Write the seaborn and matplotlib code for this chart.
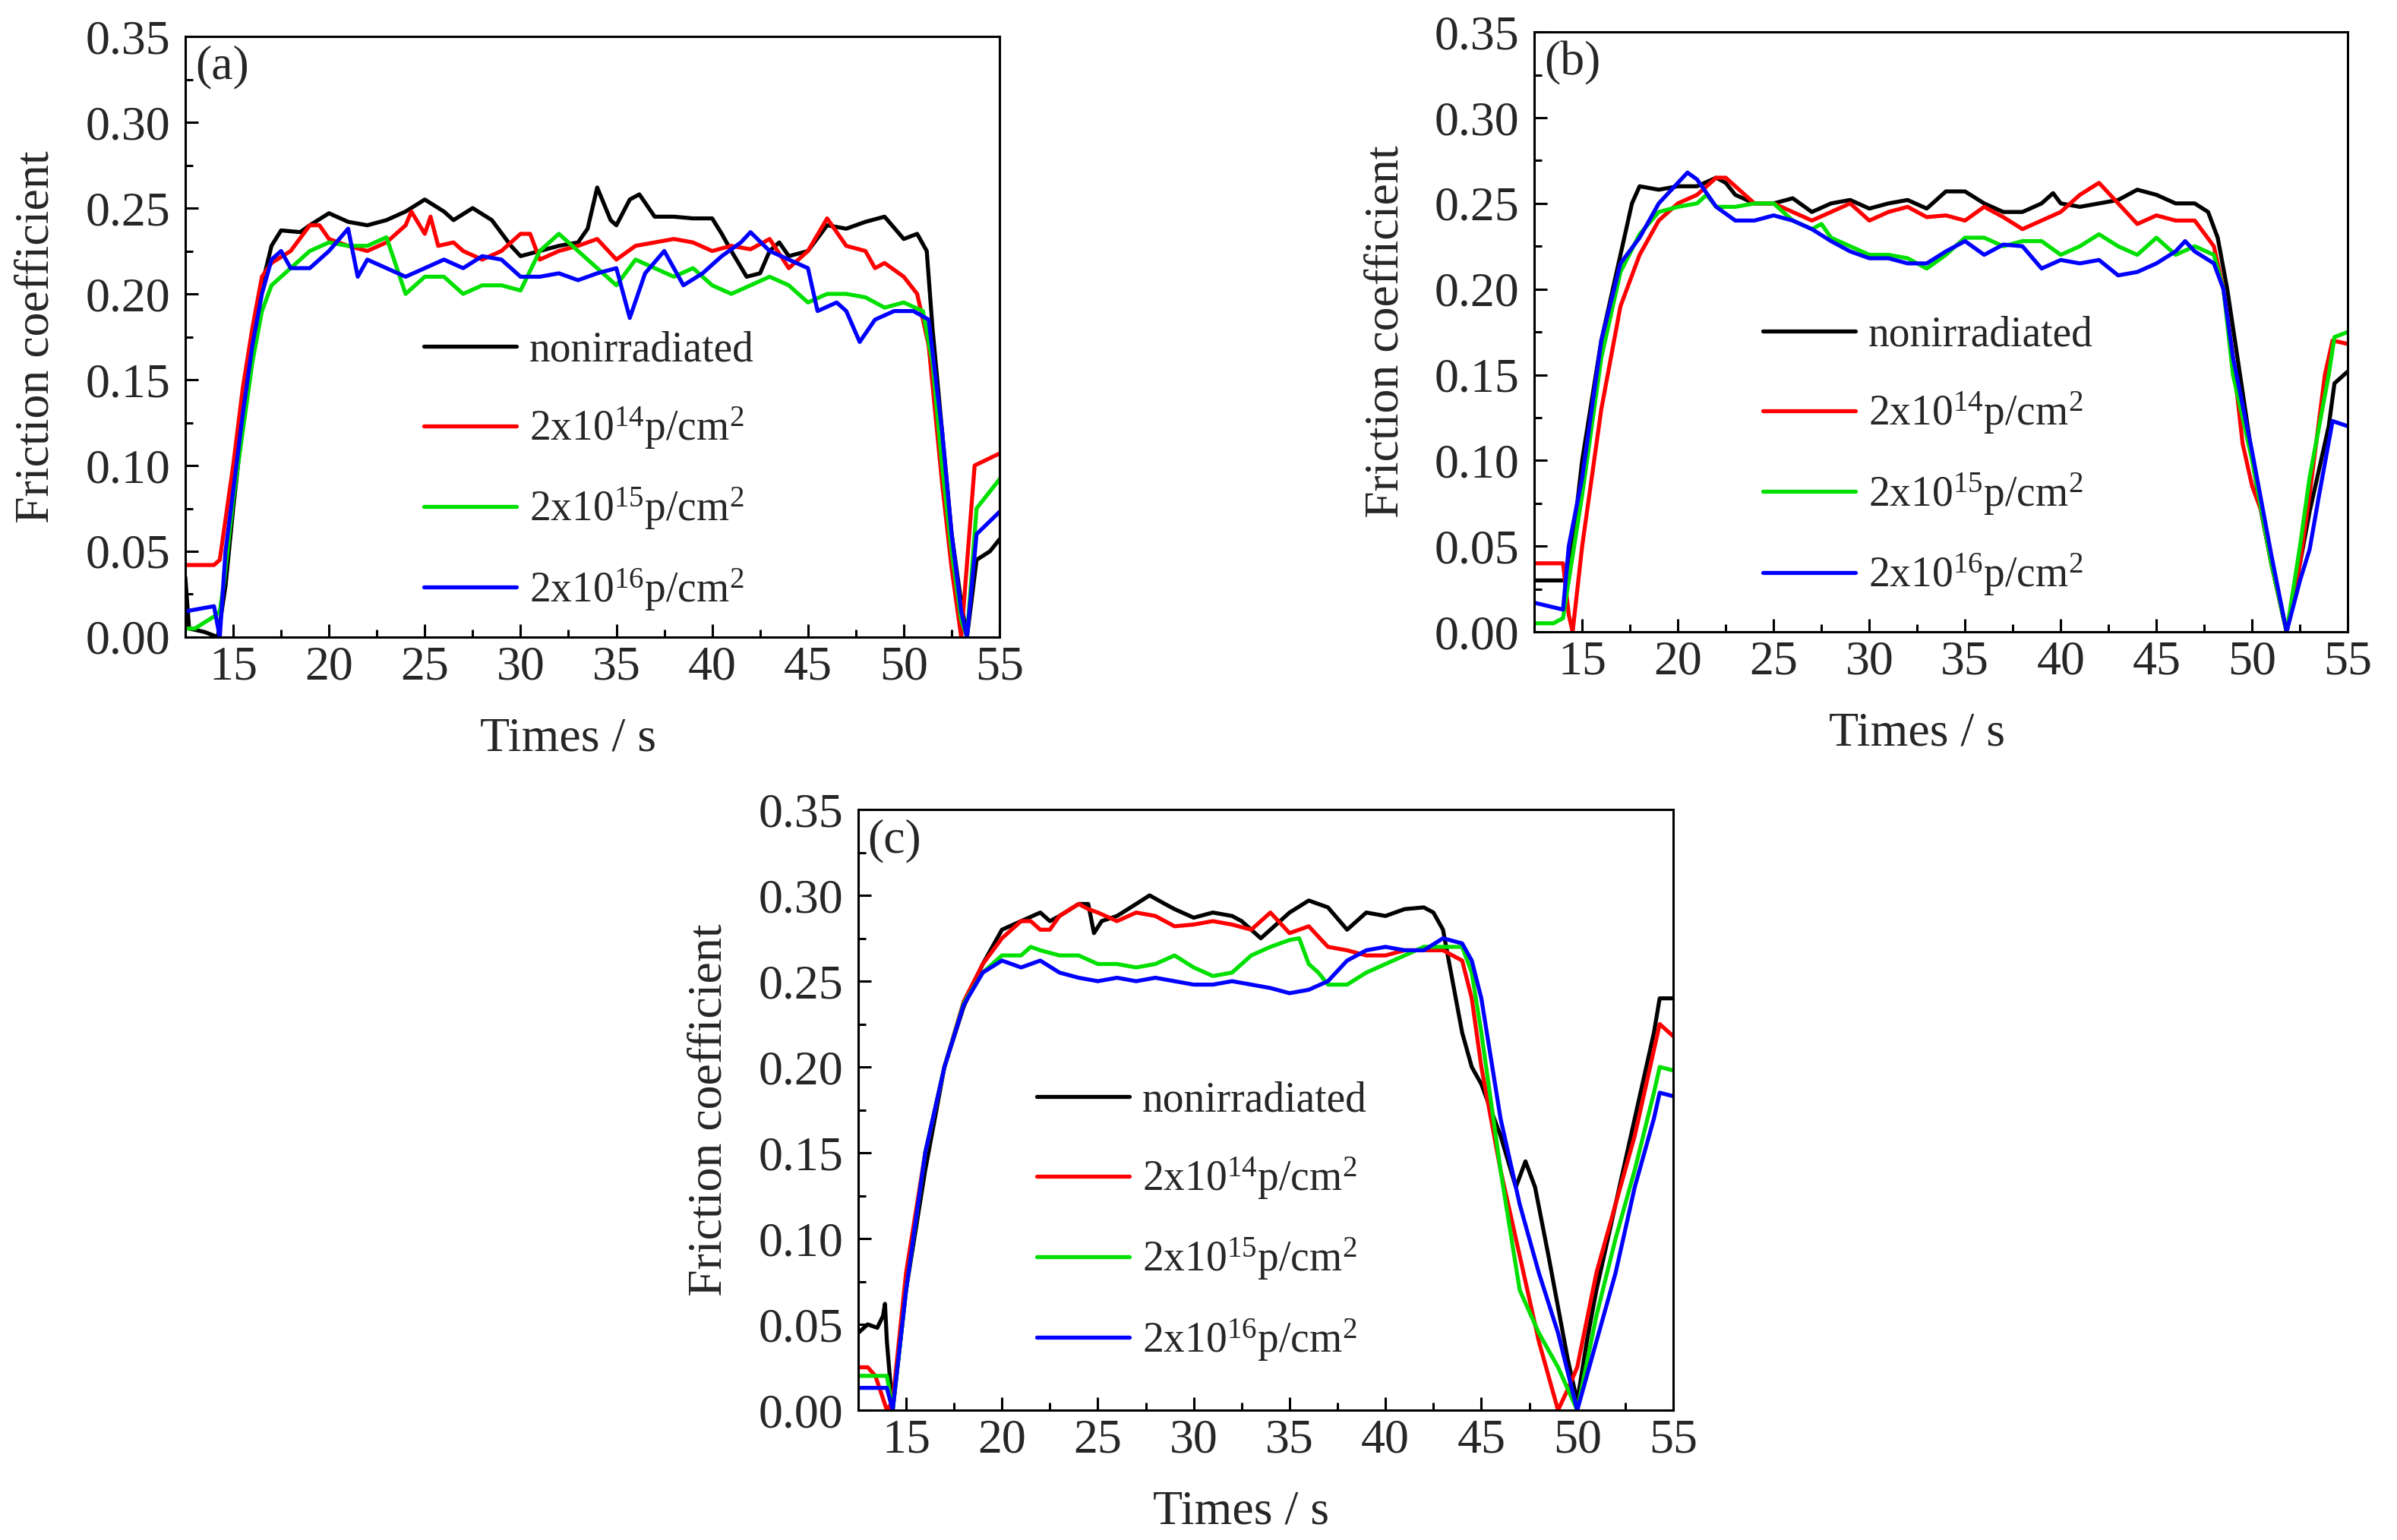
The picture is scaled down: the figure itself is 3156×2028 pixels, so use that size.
import matplotlib
matplotlib.use("Agg")
import matplotlib.pyplot as plt
import matplotlib.ticker as mticker
import pandas as pd
import seaborn as sns

# sample names (legend order)
labels = [
    "nonirradiated",
    r"2x10$^{14}$p/cm$^{2}$",
    r"2x10$^{15}$p/cm$^{2}$",
    r"2x10$^{16}$p/cm$^{2}$",
]
colors = ["#000000", "#ff0000", "#00e000", "#0000ff"]

# ---- panel (a): (time s, friction coefficient)
a_black = [(12.5, 0.035), (12.7, 0.005), (13.5, 0.003), (14.2, 0.0), (14.6, 0.03), (15.0, 0.075),
           (15.5, 0.125), (16.0, 0.17), (16.5, 0.205), (17.0, 0.228), (17.5, 0.237), (18.5, 0.236),
           (19.0, 0.24), (20.0, 0.247), (21.0, 0.242), (22.0, 0.24), (23.0, 0.243), (24.0, 0.248),
           (25.0, 0.255), (26.0, 0.248), (26.5, 0.243), (27.5, 0.25), (28.5, 0.243), (29.5, 0.228),
           (30.0, 0.222), (31.0, 0.225), (32.0, 0.228), (33.0, 0.23), (33.5, 0.238), (34.0, 0.262),
           (34.7, 0.243), (35.0, 0.24), (35.7, 0.255), (36.2, 0.258), (37.0, 0.245), (38.0, 0.245),
           (39.0, 0.244), (40.0, 0.244), (40.5, 0.235), (41.0, 0.225), (41.8, 0.21), (42.5, 0.212),
           (43.0, 0.225), (43.5, 0.23), (44.0, 0.222), (45.0, 0.225), (46.0, 0.24), (47.0, 0.238),
           (48.0, 0.242), (49.0, 0.245), (50.0, 0.232), (50.7, 0.235), (51.2, 0.225), (51.5, 0.18),
           (52.0, 0.12), (52.5, 0.06), (53.0, 0.02), (53.3, 0.0), (53.8, 0.045), (54.5, 0.05),
           (55.0, 0.057)]
a_red = [(12.5, 0.042), (14.0, 0.042), (14.3, 0.045), (15.0, 0.1), (15.5, 0.145), (16.0, 0.18),
         (16.5, 0.21), (17.0, 0.218), (18.0, 0.225), (19.0, 0.24), (19.5, 0.24), (20.0, 0.232),
         (21.0, 0.228), (22.0, 0.225), (23.0, 0.23), (24.0, 0.24), (24.3, 0.248), (25.0, 0.235),
         (25.3, 0.245), (25.7, 0.228), (26.5, 0.23), (27.0, 0.225), (28.0, 0.22), (29.0, 0.225),
         (30.0, 0.235), (30.5, 0.235), (31.0, 0.22), (32.0, 0.225), (33.0, 0.228), (34.0, 0.232),
         (35.0, 0.22), (36.0, 0.228), (37.0, 0.23), (38.0, 0.232), (39.0, 0.23), (40.0, 0.225),
         (41.0, 0.228), (42.0, 0.226), (43.0, 0.232), (44.0, 0.215), (45.0, 0.225), (46.0, 0.244),
         (47.0, 0.228), (48.0, 0.225), (48.5, 0.215), (49.0, 0.218), (50.0, 0.21), (50.7, 0.2),
         (51.3, 0.17), (52.0, 0.09), (52.5, 0.04), (53.0, 0.0), (53.7, 0.1), (55.0, 0.107)]
a_green = [(12.5, 0.005), (13.0, 0.005), (14.0, 0.012), (14.3, 0.015), (14.5, 0.03), (15.0, 0.08),
           (15.5, 0.12), (16.0, 0.16), (16.5, 0.19), (17.0, 0.205), (18.0, 0.215), (19.0, 0.225),
           (20.0, 0.23), (21.0, 0.228), (22.0, 0.228), (23.0, 0.233), (24.0, 0.2), (25.0, 0.21),
           (26.0, 0.21), (27.0, 0.2), (28.0, 0.205), (29.0, 0.205), (30.0, 0.202), (31.0, 0.225),
           (32.0, 0.235), (33.0, 0.225), (34.0, 0.215), (35.0, 0.205), (36.0, 0.22), (37.0, 0.215),
           (38.0, 0.21), (39.0, 0.215), (40.0, 0.205), (41.0, 0.2), (42.0, 0.205), (43.0, 0.21),
           (44.0, 0.205), (45.0, 0.195), (46.0, 0.2), (47.0, 0.2), (48.0, 0.198), (49.0, 0.192),
           (50.0, 0.195), (51.0, 0.19), (51.5, 0.16), (52.0, 0.1), (52.5, 0.05), (53.0, 0.01),
           (53.3, 0.0), (53.8, 0.075), (55.0, 0.092)]
a_blue = [(12.5, 0.015), (14.0, 0.018), (14.3, 0.0), (14.6, 0.05), (15.0, 0.085), (15.5, 0.13),
          (16.0, 0.17), (16.5, 0.2), (17.0, 0.22), (17.5, 0.225), (18.0, 0.215), (19.0, 0.215),
          (20.0, 0.225), (21.0, 0.238), (21.5, 0.21), (22.0, 0.22), (23.0, 0.215), (24.0, 0.21),
          (25.0, 0.215), (26.0, 0.22), (27.0, 0.215), (28.0, 0.222), (29.0, 0.22), (30.0, 0.21),
          (31.0, 0.21), (32.0, 0.212), (33.0, 0.208), (34.0, 0.212), (35.0, 0.215), (35.7, 0.186),
          (36.5, 0.212), (37.5, 0.225), (38.5, 0.205), (39.5, 0.212), (40.5, 0.222), (41.5, 0.23),
          (42.0, 0.236), (43.0, 0.225), (44.0, 0.22), (45.0, 0.215), (45.5, 0.19), (46.5, 0.195),
          (47.0, 0.19), (47.7, 0.172), (48.5, 0.185), (49.5, 0.19), (50.5, 0.19), (51.3, 0.185),
          (52.0, 0.12), (52.5, 0.06), (53.0, 0.015), (53.3, 0.0), (53.8, 0.06), (55.0, 0.073)]

# ---- panel (b)
b_black = [(12.5, 0.03), (14.0, 0.03), (14.3, 0.032), (15.0, 0.1), (16.0, 0.17), (17.0, 0.22),
           (17.6, 0.25), (18.0, 0.26), (19.0, 0.258), (20.0, 0.26), (21.0, 0.26), (22.0, 0.265),
           (22.5, 0.262), (23.0, 0.255), (24.0, 0.25), (25.0, 0.25), (26.0, 0.253), (27.0, 0.245),
           (28.0, 0.25), (29.0, 0.252), (30.0, 0.247), (31.0, 0.25), (32.0, 0.252), (33.0, 0.247),
           (34.0, 0.257), (35.0, 0.257), (36.0, 0.25), (37.0, 0.245), (38.0, 0.245), (39.0, 0.25),
           (39.6, 0.256), (40.0, 0.25), (41.0, 0.248), (42.0, 0.25), (43.0, 0.252), (44.0, 0.258),
           (45.0, 0.255), (46.0, 0.25), (47.0, 0.25), (47.7, 0.245), (48.2, 0.23), (48.7, 0.2),
           (49.5, 0.14), (50.3, 0.08), (51.0, 0.04), (51.8, 0.0), (52.5, 0.04), (53.0, 0.07),
           (54.0, 0.12), (54.3, 0.145), (55.0, 0.152)]
b_red = [(12.5, 0.04), (14.0, 0.04), (14.3, 0.01), (14.5, 0.0), (15.0, 0.05), (16.0, 0.13),
         (17.0, 0.19), (18.0, 0.22), (19.0, 0.24), (20.0, 0.25), (21.0, 0.255), (22.0, 0.265),
         (22.5, 0.265), (23.0, 0.26), (24.0, 0.25), (25.0, 0.25), (26.0, 0.245), (27.0, 0.24),
         (28.0, 0.245), (29.0, 0.25), (30.0, 0.24), (31.0, 0.245), (32.0, 0.248), (33.0, 0.242),
         (34.0, 0.243), (35.0, 0.24), (36.0, 0.248), (37.0, 0.242), (38.0, 0.235), (39.0, 0.24),
         (40.0, 0.245), (41.0, 0.255), (42.0, 0.262), (43.0, 0.25), (44.0, 0.238), (45.0, 0.243),
         (46.0, 0.24), (47.0, 0.24), (48.0, 0.225), (48.5, 0.2), (49.0, 0.16), (49.5, 0.11),
         (50.0, 0.085), (50.5, 0.07), (51.0, 0.04), (51.8, 0.0), (52.5, 0.04), (53.0, 0.08),
         (53.8, 0.15), (54.2, 0.17), (55.0, 0.168)]
b_green = [(12.5, 0.005), (13.5, 0.005), (14.0, 0.008), (14.3, 0.03), (15.0, 0.08), (16.0, 0.16),
           (17.0, 0.21), (18.0, 0.232), (19.0, 0.245), (20.0, 0.248), (21.0, 0.25), (21.5, 0.255),
           (22.0, 0.248), (23.0, 0.248), (24.0, 0.25), (25.0, 0.25), (26.0, 0.24), (27.0, 0.235),
           (27.5, 0.238), (28.0, 0.23), (29.0, 0.225), (30.0, 0.22), (31.0, 0.22), (32.0, 0.218),
           (33.0, 0.212), (34.0, 0.22), (35.0, 0.23), (36.0, 0.23), (37.0, 0.225), (38.0, 0.228),
           (39.0, 0.228), (40.0, 0.22), (41.0, 0.225), (42.0, 0.232), (43.0, 0.225), (44.0, 0.22),
           (45.0, 0.23), (46.0, 0.22), (47.0, 0.225), (48.0, 0.22), (48.5, 0.2), (49.0, 0.15),
           (50.0, 0.1), (51.0, 0.04), (51.8, 0.0), (52.5, 0.05), (53.0, 0.09), (54.0, 0.15),
           (54.3, 0.172), (55.0, 0.175)]
b_blue = [(12.5, 0.017), (14.0, 0.013), (14.3, 0.05), (15.0, 0.09), (16.0, 0.17), (17.0, 0.215),
          (18.0, 0.23), (19.0, 0.25), (20.0, 0.262), (20.5, 0.268), (21.0, 0.264), (22.0, 0.248),
          (23.0, 0.24), (24.0, 0.24), (25.0, 0.243), (26.0, 0.24), (27.0, 0.235), (28.0, 0.228),
          (29.0, 0.222), (30.0, 0.218), (31.0, 0.218), (32.0, 0.215), (33.0, 0.215), (34.0, 0.222),
          (35.0, 0.228), (36.0, 0.22), (37.0, 0.226), (38.0, 0.225), (39.0, 0.212), (40.0, 0.217),
          (41.0, 0.215), (42.0, 0.217), (43.0, 0.208), (44.0, 0.21), (45.0, 0.215), (46.0, 0.222),
          (46.5, 0.228), (47.0, 0.222), (48.0, 0.215), (48.5, 0.2), (49.0, 0.16), (50.0, 0.105),
          (51.0, 0.045), (51.8, 0.0), (52.5, 0.03), (53.0, 0.048), (53.5, 0.08), (54.2, 0.123),
          (55.0, 0.12)]

# ---- panel (c)
c_black = [(12.5, 0.045), (13.0, 0.05), (13.5, 0.048), (13.8, 0.055), (13.9, 0.062), (14.0, 0.04),
           (14.3, 0.0), (15.0, 0.07), (16.0, 0.14), (17.0, 0.2), (18.0, 0.235), (19.0, 0.26),
           (20.0, 0.28), (21.0, 0.285), (22.0, 0.29), (22.5, 0.285), (23.0, 0.288), (24.0, 0.295),
           (24.5, 0.295), (24.8, 0.278), (25.2, 0.285), (26.0, 0.288), (27.0, 0.295), (27.7, 0.3),
           (28.5, 0.295), (29.0, 0.292), (30.0, 0.287), (31.0, 0.29), (32.0, 0.288), (32.5, 0.285),
           (33.0, 0.28), (33.5, 0.275), (34.0, 0.28), (35.0, 0.29), (36.0, 0.297), (37.0, 0.293),
           (38.0, 0.28), (39.0, 0.29), (40.0, 0.288), (41.0, 0.292), (42.0, 0.293), (42.5, 0.29),
           (43.0, 0.28), (43.5, 0.25), (44.0, 0.22), (44.5, 0.2), (45.0, 0.19), (46.0, 0.16),
           (46.8, 0.13), (47.3, 0.145), (47.8, 0.13), (48.5, 0.09), (49.0, 0.06), (49.5, 0.03),
           (50.0, 0.005), (50.5, 0.04), (51.0, 0.07), (52.0, 0.12), (53.0, 0.17), (54.0, 0.22),
           (54.3, 0.24), (55.0, 0.24)]
c_red = [(12.5, 0.025), (13.0, 0.025), (13.4, 0.02), (13.7, 0.01), (14.0, 0.0), (14.3, 0.005),
         (15.0, 0.08), (16.0, 0.15), (17.0, 0.2), (18.0, 0.238), (19.0, 0.26), (20.0, 0.275),
         (21.0, 0.285), (21.5, 0.285), (22.0, 0.28), (22.5, 0.28), (23.0, 0.288), (24.0, 0.295),
         (24.5, 0.292), (25.0, 0.29), (26.0, 0.285), (27.0, 0.29), (28.0, 0.288), (29.0, 0.282),
         (30.0, 0.283), (31.0, 0.285), (32.0, 0.283), (33.0, 0.28), (34.0, 0.29), (35.0, 0.278),
         (36.0, 0.282), (37.0, 0.27), (38.0, 0.268), (39.0, 0.265), (40.0, 0.265), (41.0, 0.268),
         (42.0, 0.268), (43.0, 0.268), (43.5, 0.265), (44.0, 0.262), (44.5, 0.24), (45.0, 0.2),
         (46.0, 0.14), (47.0, 0.09), (48.0, 0.04), (49.0, 0.0), (49.5, 0.012), (50.0, 0.025),
         (51.0, 0.08), (52.0, 0.12), (53.0, 0.16), (54.0, 0.21), (54.3, 0.225), (55.0, 0.218)]
c_green = [(12.5, 0.02), (14.0, 0.02), (14.3, 0.0), (15.0, 0.07), (16.0, 0.15), (17.0, 0.2),
           (18.0, 0.237), (19.0, 0.255), (20.0, 0.265), (21.0, 0.265), (21.5, 0.27), (22.0, 0.268),
           (23.0, 0.265), (24.0, 0.265), (25.0, 0.26), (26.0, 0.26), (27.0, 0.258), (28.0, 0.26),
           (29.0, 0.265), (30.0, 0.258), (31.0, 0.253), (32.0, 0.255), (33.0, 0.265), (34.0, 0.27),
           (35.0, 0.274), (35.5, 0.275), (36.0, 0.26), (36.5, 0.255), (37.0, 0.248), (38.0, 0.248),
           (39.0, 0.255), (40.0, 0.26), (41.0, 0.265), (42.0, 0.27), (43.0, 0.27), (44.0, 0.27),
           (44.5, 0.255), (45.0, 0.22), (46.0, 0.14), (47.0, 0.07), (48.0, 0.045), (49.0, 0.025),
           (50.0, 0.0), (51.0, 0.055), (52.0, 0.1), (53.0, 0.14), (54.0, 0.185), (54.3, 0.2),
           (55.0, 0.198)]
c_blue = [(12.5, 0.013), (14.0, 0.013), (14.3, 0.0), (15.0, 0.07), (16.0, 0.15), (17.0, 0.2),
          (18.0, 0.236), (19.0, 0.255), (20.0, 0.262), (21.0, 0.258), (22.0, 0.262), (23.0, 0.255),
          (24.0, 0.252), (25.0, 0.25), (26.0, 0.252), (27.0, 0.25), (28.0, 0.252), (29.0, 0.25),
          (30.0, 0.248), (31.0, 0.248), (32.0, 0.25), (33.0, 0.248), (34.0, 0.246), (35.0, 0.243),
          (36.0, 0.245), (37.0, 0.25), (38.0, 0.262), (39.0, 0.268), (40.0, 0.27), (41.0, 0.268),
          (42.0, 0.268), (43.0, 0.275), (44.0, 0.272), (44.5, 0.262), (45.0, 0.24), (46.0, 0.17),
          (47.0, 0.12), (48.0, 0.08), (49.0, 0.045), (50.0, 0.0), (50.5, 0.02), (51.0, 0.04),
          (52.0, 0.08), (53.0, 0.13), (54.0, 0.17), (54.3, 0.185), (55.0, 0.183)]

panels = [
    ("(a)", [a_black, a_red, a_green, a_blue]),
    ("(b)", [b_black, b_red, b_green, b_blue]),
    ("(c)", [c_black, c_red, c_green, c_blue]),
]


def to_frame(series):
    rows = []
    for lab, pts in zip(labels, series):
        for t, f in pts:
            rows.append({"time": t, "friction": f, "sample": lab})
    return pd.DataFrame(rows)


sns.set_style("ticks")
plt.rcParams["font.family"] = ["Liberation Serif", "DejaVu Serif"]
plt.rcParams["mathtext.fontset"] = "custom"
plt.rcParams["mathtext.rm"] = "Liberation Serif"
plt.rcParams["mathtext.it"] = "Liberation Serif:italic"
plt.rcParams["mathtext.bf"] = "Liberation Serif:bold"

fig = plt.figure(figsize=(31.56, 20.28), dpi=100)
# [left, bottom, width, height] in figure fractions
boxes = [
    [0.0773, 0.5863, 0.3397, 0.3900],
    [0.6401, 0.5897, 0.3394, 0.3895],
    [0.3580, 0.0843, 0.3400, 0.3900],
]
legend_anchor = [(0.267, 0.545), (0.255, 0.562), (0.193, 0.583)]

for (tag, series), box, anchor in zip(panels, boxes, legend_anchor):
    ax = fig.add_axes(box)
    df = to_frame(series)
    sns.lineplot(data=df, x="time", y="friction", hue="sample", hue_order=labels,
                 palette=dict(zip(labels, colors)), estimator=None, linewidth=3.8, ax=ax)

    ax.set_xlim(12.5, 55)
    ax.set_ylim(0, 0.35)
    ax.xaxis.set_major_locator(mticker.MultipleLocator(5))
    ax.xaxis.set_minor_locator(mticker.MultipleLocator(2.5))
    ax.yaxis.set_major_locator(mticker.MultipleLocator(0.05))
    ax.yaxis.set_minor_locator(mticker.MultipleLocator(0.025))
    ax.yaxis.set_major_formatter(mticker.FormatStrFormatter("%.2f"))
    ax.tick_params(which="both", direction="in", top=False, right=False, width=2.2, color="black")
    ax.tick_params(which="major", length=12, labelsize=46)
    ax.tick_params(which="minor", length=7)
    ax.tick_params(axis="x", which="major", pad=8)
    ax.tick_params(axis="y", which="major", pad=14)
    for sp in ax.spines.values():
        sp.set_visible(True)
        sp.set_linewidth(2.2)
        sp.set_color("black")

    ax.set_xlabel("Times / s", fontsize=46)
    ax.set_ylabel("Friction coefficient", fontsize=46)
    ax.xaxis.set_label_coords(0.47, -0.133)
    ax.yaxis.set_label_coords(-0.155, 0.5)
    ax.text(0.012, 0.985, tag, transform=ax.transAxes, ha="left", va="top", fontsize=46)

    sns.move_legend(ax, "upper left", bbox_to_anchor=anchor, frameon=False, title=None,
                    fontsize=40, borderpad=0, handlelength=2.2, handletextpad=0.3,
                    labelspacing=0.82)
    for line in ax.get_legend().get_lines():
        line.set_linewidth(3.8)

fig.savefig("out.png", dpi=100, facecolor="white")
